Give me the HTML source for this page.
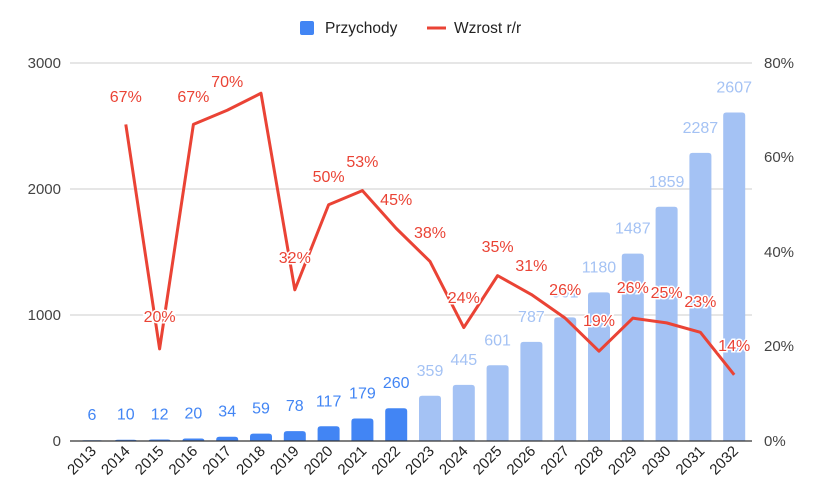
<!DOCTYPE html>
<html><head><meta charset="utf-8"><style>
body{margin:0;background:#fff;}
svg{display:block;font-family:"Liberation Sans",Arial,sans-serif;}
</style></head><body>
<svg id="c" width="815" height="504" viewBox="0 0 815 504" xmlns="http://www.w3.org/2000/svg"></svg>
<script>
const s=document.getElementById('c');let h='';
const Y=v=>441-v*0.126, P=p=>441-p*4.725, X=i=>92+i*33.8;
[1000,2000,3000].forEach(v=>{h+=`<line x1="70" x2="752" y1="${Y(v)}" y2="${Y(v)}" stroke="#ccc" stroke-width="1"/>`;});
[['3000',63],['2000',189],['1000',315],['0',441]].forEach(([t,y])=>h+=`<text x="61" y="${y+5}" text-anchor="end" font-size="15" fill="#444">${t}</text>`);
[['80%',63],['60%',157],['40%',252],['20%',346],['0%',441]].forEach(([t,y])=>h+=`<text x="764" y="${y+5}" font-size="15" fill="#444">${t}</text>`);
const vals=[6,10,12,20,34,59,78,117,179,260,359,445,601,787,981,1180,1487,1859,2287,2607];
vals.forEach((v,i)=>{const c=i<10?'#4285f4':'#a4c2f4';const x=X(i)-11,y=Y(v),hh=441-y;
 if(hh>0.5)h+=`<path d="M${x} 441V${y+Math.min(3,hh)}Q${x} ${y} ${x+3} ${y}H${x+19}Q${x+22} ${y} ${x+22} ${y+Math.min(3,hh)}V441Z" fill="${c}"/>`;});
h+=`<line x1="70" x2="752" y1="441" y2="441" stroke="#333" stroke-width="1.3"/>`;
const pct=[null,67,19.5,67,70,73.6,32,50,53,45,38,24,35,31,26,19,26,25,23,14];
let d='';pct.forEach((p,i)=>{if(p!=null)d+=(d?'L':'M')+X(i)+' '+P(p);});
h+=`<path d="${d}" fill="none" stroke="#ea4335" stroke-width="3" stroke-linejoin="round"/>`;
vals.forEach((v,i)=>{const c=i<10?'#4285f4':'#a4c2f4';h+=`<text x="${X(i)}" y="${Y(v)-20}" text-anchor="middle" font-size="16" fill="${c}" stroke="#fff" stroke-width="3" paint-order="stroke">${v}</text>`;});
const lbl=[[1,67,125],[2,20,350],[3,67,125],[4,70,110],[6,32,289],[7,50,205],[8,53,190],[9,45,228],[10,38,261],[11,24,327],[12,35,275],[13,31,294],[14,26,318],[15,19,350],[16,26,318],[17,25,323],[18,23,332],[19,14,374]];
const ly={2:322,6:263,11:303,15:326,16:293,17:298,18:307,19:351};
lbl.forEach(([i,t,y])=>{const yy=ly[i]||y-23;h+=`<text x="${X(i)}" y="${yy}" text-anchor="middle" font-size="16" fill="#ea4335" stroke="#fff" stroke-width="3" paint-order="stroke">${t}%</text>`;});
vals.forEach((v,i)=>{const x=X(i)+5,y=452;h+=`<text x="${x}" y="${y}" text-anchor="end" font-size="15" fill="#222" transform="rotate(-45 ${x} ${y})">${2013+i}</text>`;});
h+=`<rect x="300" y="21" width="14" height="14" rx="2" fill="#4285f4"/><text x="325" y="33" font-size="15.5" fill="#222">Przychody</text>`;
h+=`<line x1="427" x2="446" y1="28" y2="28" stroke="#ea4335" stroke-width="3"/><text x="454" y="33" font-size="15.5" fill="#222">Wzrost r/r</text>`;
s.innerHTML=h;
</script>
</body></html>
